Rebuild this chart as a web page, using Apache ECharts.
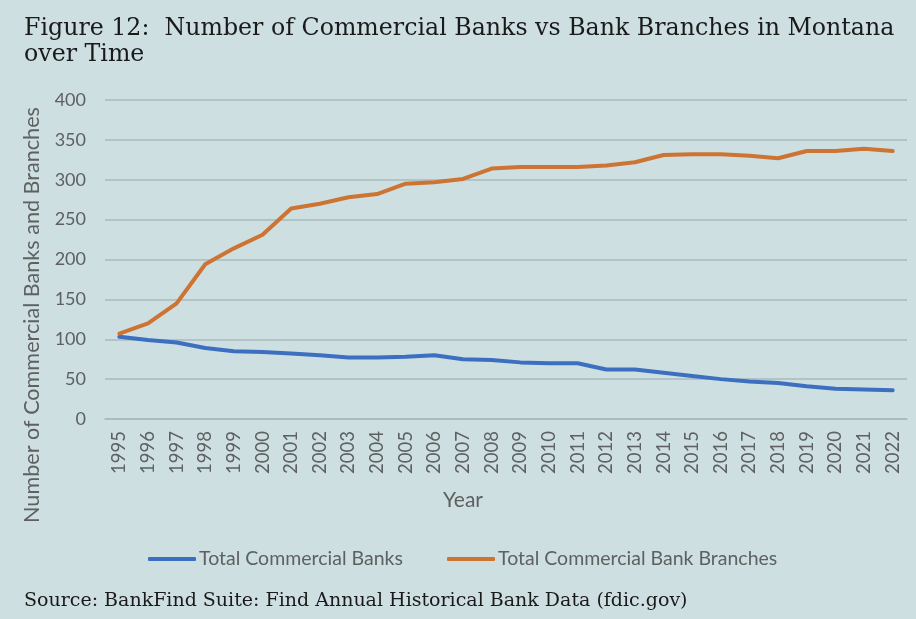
<!DOCTYPE html>
<html>
<head>
<meta charset="utf-8">
<script src="https://cdn.jsdelivr.net/npm/echarts@6/dist/echarts.min.js"></script>
<style>
  html, body { margin: 0; padding: 0; background: #cddfe1; }
  #chart { width: 916px; height: 619px; }
</style>
</head>
<body>
<div id="chart"></div>
<script>
// Montana commercial banks vs bank branches, 1995-2022
const years = ['1995','1996','1997','1998','1999','2000','2001','2002','2003','2004',
  '2005','2006','2007','2008','2009','2010','2011','2012','2013','2014','2015','2016',
  '2017','2018','2019','2020','2021','2022'];
const banks = [103, 99, 96, 89, 85, 84, 82, 80, 77, 77, 78, 80, 75, 74, 71, 70, 70,
  62, 62, 58, 54, 50, 47, 45, 41, 38, 37, 36];
const branches = [107, 120, 145, 194, 214, 231, 264, 270, 278, 282, 295, 297, 301,
  314, 316, 316, 316, 318, 322, 331, 332, 332, 330, 327, 336, 336, 339, 336];
const yTicks = { min: 0, max: 400, step: 50 };
const seriesNames = ['Total Commercial Banks', 'Total Commercial Bank Branches'];

const labelGrey = '#5e6061';
const gridGrey = '#a9babc';
const sansFont = 'Lato, "Open Sans", sans-serif';
const serifFont = '"DejaVu Serif", serif';

const chart = echarts.init(document.getElementById('chart'), null, { renderer: 'canvas' });

const legendBase = {
  icon: 'roundRect', itemWidth: 48, itemHeight: 4, itemGap: 0, padding: 0, top: 549,
  textStyle: { color: labelGrey, fontFamily: sansFont, fontSize: 19.5, padding: [0, 0, 0, -2] }
};

chart.setOption({
  backgroundColor: '#cddfe1',
  animation: false,
  grid: { left: 105, right: 9, top: 100, bottom: 200, containLabel: false },
  xAxis: {
    type: 'category',
    data: years,
    boundaryGap: true,
    axisLine: { show: true, lineStyle: { color: gridGrey, width: 1.5 } },
    axisTick: { show: false },
    axisLabel: {
      rotate: 90, color: labelGrey, fontFamily: sansFont, fontSize: 18.5, margin: 12, interval: 0
    }
  },
  yAxis: {
    type: 'value',
    min: yTicks.min, max: yTicks.max, interval: yTicks.step,
    axisLine: { show: false },
    axisTick: { show: false },
    axisLabel: { color: labelGrey, fontFamily: sansFont, fontSize: 18, margin: 19 },
    splitLine: { lineStyle: { color: gridGrey, width: 1.5 } }
  },
  legend: [
    Object.assign({ data: [seriesNames[0]], left: 148 }, legendBase),
    Object.assign({ data: [seriesNames[1]], left: 447 }, legendBase)
  ],
  series: [
    {
      name: seriesNames[0], type: 'line', data: banks, symbol: 'none',
      color: '#3d6fc1',
      lineStyle: { width: 4, color: '#3d6fc1', cap: 'round', join: 'round' }
    },
    {
      name: seriesNames[1], type: 'line', data: branches, symbol: 'none',
      color: '#cd7432',
      lineStyle: { width: 4, color: '#cd7432', cap: 'round', join: 'round' }
    }
  ],
  graphic: [
    {
      type: 'text', left: 24, top: 16,
      style: {
        text: 'Figure 12:  Number of Commercial Banks vs Bank Branches in Montana\nover Time',
        font: '23.7px ' + serifFont, fill: '#1a1a1a', lineHeight: 26
      }
    },
    {
      type: 'text', x: 32, y: 315, rotation: Math.PI / 2,
      style: {
        text: 'Number of Commercial Banks and Branches',
        font: '21.6px ' + sansFont, fill: labelGrey, align: 'center', verticalAlign: 'middle'
      }
    },
    {
      type: 'text', x: 463, y: 500,
      style: {
        text: 'Year', font: '21px ' + sansFont, fill: labelGrey,
        align: 'center', verticalAlign: 'middle'
      }
    },
    {
      type: 'text', left: 24, top: 592,
      style: {
        text: 'Source: BankFind Suite: Find Annual Historical Bank Data (fdic.gov)',
        font: '19px ' + serifFont, fill: '#1a1a1a'
      }
    }
  ]
});
</script>
</body>
</html>
